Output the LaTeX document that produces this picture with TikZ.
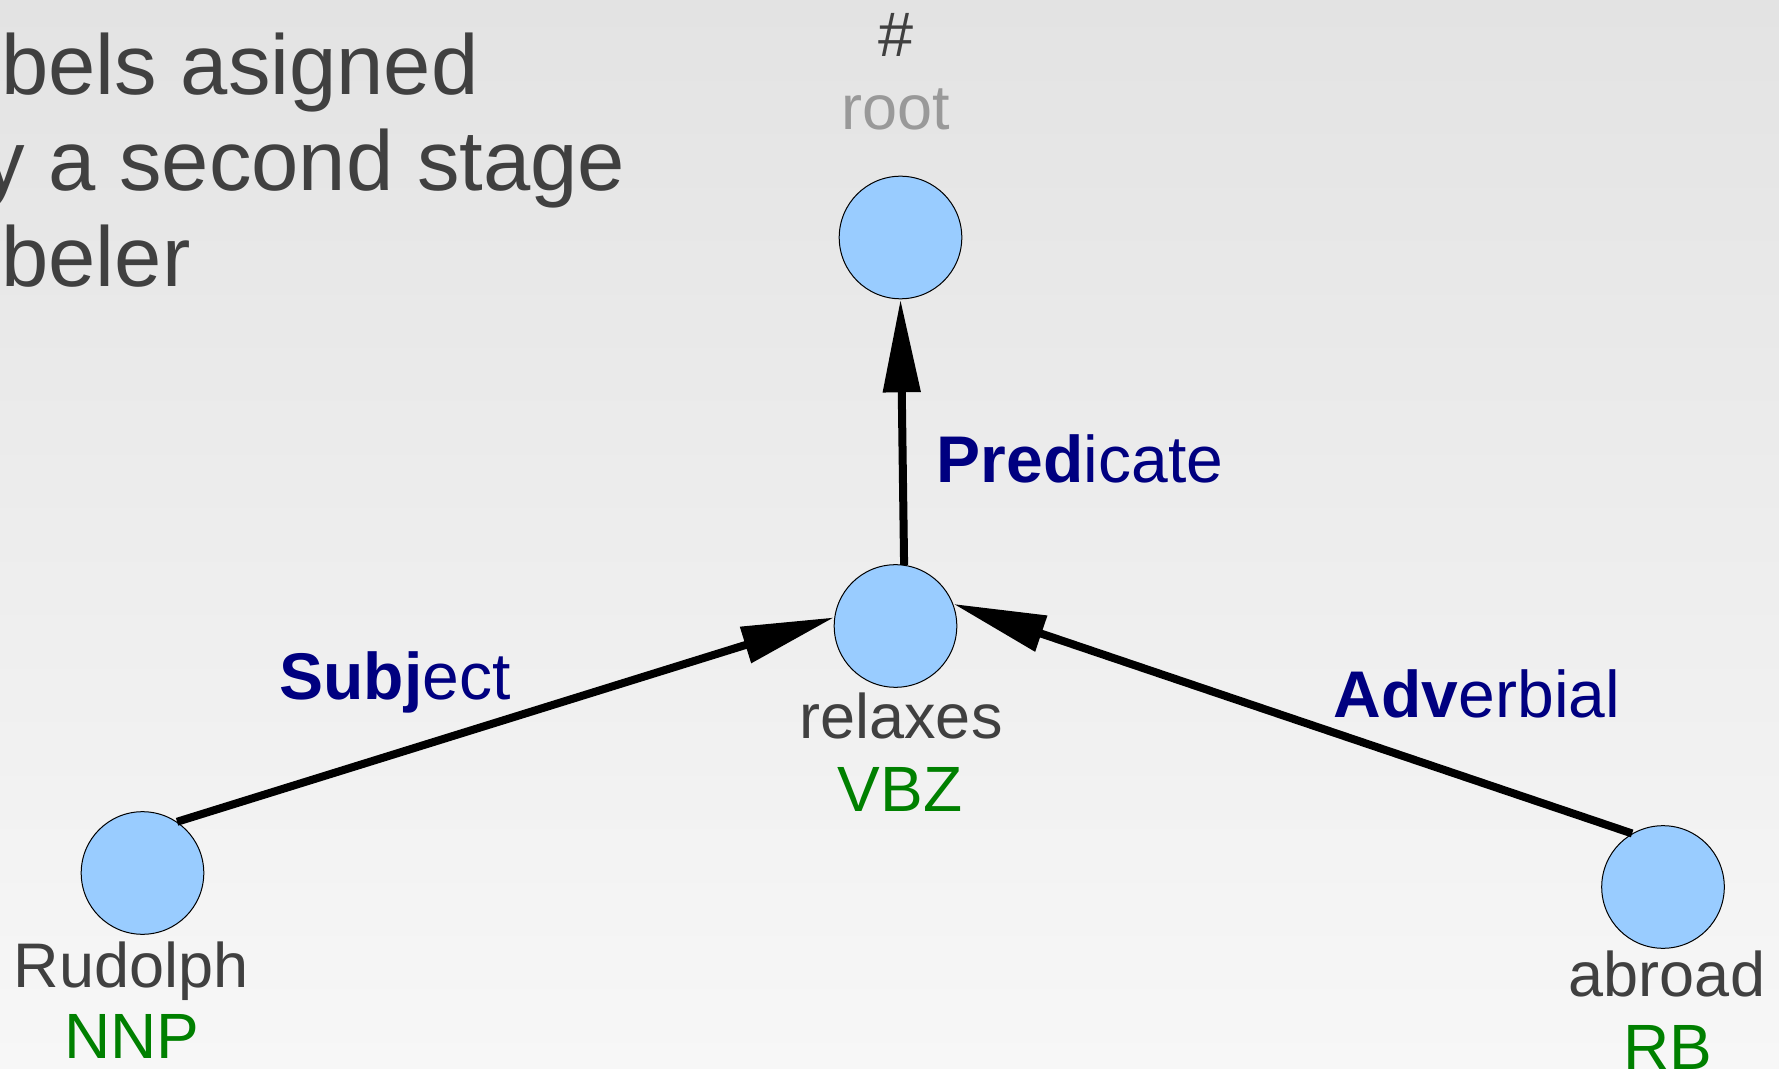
\documentclass[tikz,border=0pt]{standalone}
\usepackage{fontspec}
\setmainfont{Liberation Sans}
\usetikzlibrary{arrows.meta}

\definecolor{bgtop}{RGB}{227,227,227}
\definecolor{bgbottom}{RGB}{247,247,247}
\definecolor{nodeblue}{RGB}{153,204,255}
\definecolor{wordgray}{RGB}{64,64,64}
\definecolor{rootgray}{RGB}{153,153,153}
\definecolor{taggreen}{RGB}{0,128,0}
\definecolor{labelnavy}{RGB}{0,0,128}

\tikzset{
  token/.style={circle, draw=black, line width=0.5pt, fill=nodeblue, minimum size=61.3pt, inner sep=0pt},
  word/.style={anchor=base, inner sep=0pt, text=wordgray, font=\fontsize{31.5}{38}\selectfont},
  tag/.style={anchor=base, inner sep=0pt, text=taggreen, font=\fontsize{32}{38}\selectfont},
  deplabel/.style={anchor=base, inner sep=0pt, text=labelnavy, font=\fontsize{33}{40}\selectfont},
  dep/.style={line width=4pt, -{Triangle[length=46.5pt,width=18pt]}},
  note/.style={anchor=base west, inner sep=0pt, text=wordgray, font=\fontsize{42.5}{48}\selectfont}
}

\begin{document}
\begin{tikzpicture}[x=0.5pt,y=0.5pt]
\useasboundingbox (0,0) rectangle (1779,-1069);
\fill[top color=bgtop, bottom color=bgbottom] (0,0) rectangle (1779,-1069);
% heading text, runs off the left edge
\node[note] (note1) at (1,-95) {bels asigned};
\node[note] (note2) at (-18,-191) {y a second stage};
\node[note] (note3) at (1,-287) {beler};
% tokens
\node[token] (root) at (900.5,-237.5) {};
\node[token] (relaxes) at (895.5,-626) {};
\node[token] (rudolph) at (142.5,-873) {};
\node[token] (abroad) at (1663,-887) {};
% words and POS tags
\node[word] (root-hash) at (896,-57) {\#};
\node[word, text=rootgray] (root-word) at (896,-130) {root};
\node[word] (relaxes-word) at (901,-738) {relaxes};
\node[tag] (relaxes-tag) at (900,-811) {VBZ};
\node[word] (rudolph-word) at (131,-987) {Rudolph};
\node[tag] (rudolph-tag) at (132,-1058) {NNP};
\node[word] (abroad-word) at (1667,-996) {abroad};
\node[tag] (abroad-tag) at (1668,-1069) {RB};
% dependency arcs
\draw[dep] (relaxes.82) -- (root.south);
\draw[dep] (rudolph.56) -- (relaxes.172);
\draw[dep] (abroad.120) -- (relaxes.21);
\node[deplabel] (pred-lbl) at (1080,-483) {\textbf{Pred}icate};
\node[deplabel] (subj-lbl) at (395,-699) {\textbf{Subj}ect};
\node[deplabel] (advb-lbl) at (1477,-717) {\textbf{Adv}erbial};
\end{tikzpicture}
\end{document}
